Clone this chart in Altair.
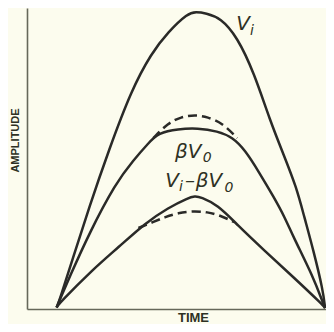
import altair as alt
import pandas as pd

# Values: time (horizontal, 0-99) and amplitude (vertical, 0-100)
vi_t = [9.8, 10.8, 15.0, 20.6, 27.1, 34.6, 41.2, 46.7, 53.3, 55.9, 59.2, 64.1, 69.6, 75.2, 80.4, 85.0, 89.2, 91.8, 94.8, 98.0, 98.7]
vi_a = [0.5, 3.0, 16.3, 33.9, 52.8, 72.8, 85.0, 92.0, 98.3, 98.7, 98.3, 96.7, 90.4, 78.4, 62.8, 51.2, 40.5, 30.6, 19.6, 6.3, 0.3]

bv_t = [9.8, 10.8, 14.1, 20.6, 29.4, 35.3, 40.2, 43.5, 50.0, 56.5, 63.1, 68.0, 72.2, 76.8, 81.7, 85.3, 88.2, 94.8, 98.0, 98.7]
bv_a = [0.5, 3.0, 10.6, 25.2, 41.9, 49.5, 55.1, 58.5, 59.8, 60.1, 59.1, 57.1, 52.8, 45.5, 37.2, 30.6, 23.9, 10.6, 2.0, 0.3]

bvd_t = [41.8, 46.7, 51.0, 55.6, 59.8, 64.7, 69.6]
bvd_a = [56.8, 61.8, 63.8, 64.5, 63.8, 61.8, 56.8]

df_t = [9.8, 10.8, 21.6, 30.4, 39.2, 46.7, 53.3, 55.6, 57.5, 63.1, 69.6, 78.4, 88.2, 98.0, 98.7]
df_a = [0.5, 2.0, 13.0, 20.6, 28.6, 33.6, 36.9, 37.5, 37.2, 34.6, 28.0, 19.6, 10.6, 1.3, 0.3]

dfd_t = [36.9, 41.8, 45.8, 50.0, 54.9, 59.8, 63.7, 68.6]
dfd_a = [26.9, 28.9, 30.6, 31.9, 32.6, 32.2, 31.2, 28.9]

# Curve labels: main letters and their subscripts
main_text = ["V", "\u03b2V", "V", "\u2013", "\u03b2V"]
main_t = [69.3, 49.0, 45.8, 52.3, 55.9]
main_a = [92.7, 50.2, 40.5, 40.5, 40.5]

sub_text = ["i", "0", "i", "0"]
sub_t = [73.8, 58.2, 50.3, 65.4]
sub_a = [90.9, 48.8, 39.2, 38.9]


def frame(name, ts, amps):
    return pd.DataFrame({"t": ts, "amp": amps, "curve": name})


solid = pd.concat([
    frame("Vi", vi_t, vi_a),
    frame("bVo", bv_t, bv_a),
    frame("Vi-bVo", df_t, df_a),
])
dashed = pd.concat([
    frame("bVo sine", bvd_t, bvd_a),
    frame("Vi-bVo sine", dfd_t, dfd_a),
])
mains = pd.DataFrame({"t": main_t, "amp": main_a, "text": main_text})
subs = pd.DataFrame({"t": sub_t, "amp": sub_a, "text": sub_text})

LINE = "#2a2a28"
AXIS = "#66685a"
TEXT = "#2e3124"

x = alt.X("t:Q", scale=alt.Scale(domain=[0, 99], nice=False, zero=False),
          axis=alt.Axis(title="TIME", ticks=False, labels=False, grid=False,
                        domainColor=AXIS, domainWidth=1.6,
                        titleFont="Liberation Sans", titleFontSize=13, titleFontWeight="bold",
                        titleColor=TEXT, titleX=166, titleY=8.5, titleBaseline="middle",
                        titleAlign="center"))
y = alt.Y("amp:Q", scale=alt.Scale(domain=[0, 100], nice=False, zero=False),
          axis=alt.Axis(title="AMPLITUDE", ticks=False, labels=False, grid=False,
                        domainColor=AXIS, domainWidth=1.6,
                        titleFont="Liberation Sans", titleFontSize=11, titleFontWeight="bold",
                        titleColor=TEXT, titleX=-12, titleY=132, titleAngle=-90,
                        titleBaseline="middle", titleAlign="center"))

solid_layer = alt.Chart(solid).mark_line(
    color=LINE, strokeWidth=2.5, interpolate="basis"
).encode(x=x, y=y, detail="curve:N", order="t:Q")

dashed_layer = alt.Chart(dashed).mark_line(
    color=LINE, strokeWidth=2.5, interpolate="basis", strokeDash=[9, 5]
).encode(x=x, y=y, detail="curve:N", order="t:Q")

main_layer = alt.Chart(mains).mark_text(
    font="DejaVu Sans", fontStyle="italic", fontSize=20, color=TEXT,
    align="left", baseline="alphabetic"
).encode(x=x, y=y, text="text:N")

sub_layer = alt.Chart(subs).mark_text(
    font="DejaVu Sans", fontStyle="italic", fontSize=14, color=TEXT,
    align="left", baseline="alphabetic"
).encode(x=x, y=y, text="text:N")

chart = alt.layer(solid_layer, dashed_layer, main_layer, sub_layer).properties(
    width=299, height=301,
    autosize=alt.AutoSizeParams(type="none"),
    padding={"left": 19, "top": 0, "right": 0, "bottom": 15},
    background="#fcfcee",
).configure_view(stroke=None)

chart.save("out.html", embed_options={"renderer": "svg", "actions": False})
